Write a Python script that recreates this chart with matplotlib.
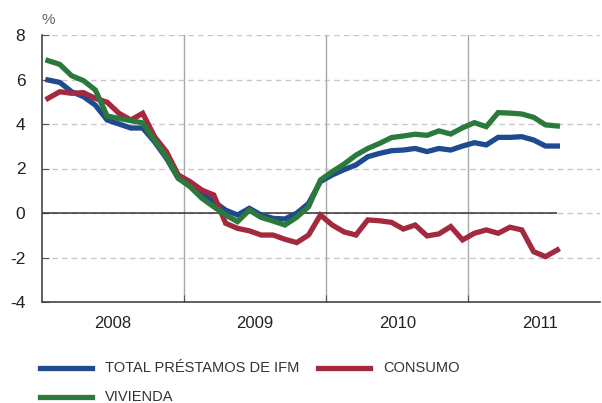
import matplotlib
matplotlib.use("Agg")
import matplotlib.pyplot as plt
from matplotlib.lines import Line2D
import numpy as np

# Monthly data, Jan 2008 .. Aug 2011
years = ["2008", "2009", "2010", "2011"]
total = [5.98, 5.87, 5.45, 5.23, 4.85, 4.18, 4.00, 3.82, 3.82, 3.20, 2.46, 1.56,
         1.26, 0.88, 0.51, 0.13, -0.09, 0.21, -0.09, -0.24, -0.27, -0.01, 0.43, 1.41,
         1.71, 1.95, 2.16, 2.53, 2.68, 2.80, 2.83, 2.90, 2.76, 2.90, 2.83, 3.01,
         3.16, 3.06, 3.40, 3.40, 3.43, 3.28, 3.01, 3.01]
vivienda = [6.85, 6.68, 6.17, 5.95, 5.53, 4.36, 4.25, 4.15, 4.05, 3.28, 2.53, 1.56,
            1.18, 0.66, 0.28, -0.09, -0.39, 0.13, -0.20, -0.36, -0.54, -0.19, 0.28, 1.48,
            1.86, 2.20, 2.60, 2.90, 3.13, 3.39, 3.46, 3.54, 3.49, 3.69, 3.55, 3.83,
            4.06, 3.88, 4.51, 4.49, 4.45, 4.30, 3.96, 3.91]
consumo = [5.15, 5.45, 5.38, 5.41, 5.15, 4.98, 4.48, 4.18, 4.48, 3.43, 2.76, 1.71,
           1.41, 1.03, 0.81, -0.46, -0.69, -0.80, -0.99, -0.99, -1.18, -1.33, -0.99, -0.09,
           -0.54, -0.85, -0.99, -0.31, -0.35, -0.42, -0.72, -0.54, -1.03, -0.94, -0.61, -1.21,
           -0.91, -0.76, -0.91, -0.64, -0.76, -1.74, -1.96, -1.66]
labels = ["TOTAL PRÉSTAMOS DE IFM", "CONSUMO", "VIVIENDA"]
colors = ["#1f4a8f", "#a3293f", "#2b7a3b"]
yticks = [-4, -2, 0, 2, 4, 6, 8]

plt.rcParams['font.family'] = ['Liberation Sans', 'DejaVu Sans']

fig = plt.figure(figsize=(6.02, 4.03), dpi=100)
ax = fig.add_axes([42/602, 1-302/403, (600-42)/602, (302-35)/403])

x = np.arange(len(total)) + 0.5
series = [total, consumo, vivienda]
zorders = [3, 4, 5]
# draw order: red, blue, green roughly as in reference
for s, c, z in zip(series, colors, zorders):
    ax.plot(x, s, color=c, lw=3.8, solid_joinstyle='miter', zorder=z)

ax.set_xlim(0, 47.1)
ax.set_ylim(-4, 8)

# grid
for yv in yticks:
    if yv not in (0, -4):
        ax.axhline(yv, color='#c8c8c8', lw=1.0, ls=(0, (4, 3)), zorder=1)
ax.hlines(0, 0, x[-1], color='#333333', lw=1.1, zorder=2)
ax.axhline(0, color='#c8c8c8', lw=1.0, ls=(0, (4, 3)), zorder=1)
for k in range(1, len(years)):
    ax.axvline(12*k, color='#a8a8a8', lw=1.0, zorder=1)

ax.set_yticks(yticks)
ax.set_yticklabels([str(v) for v in yticks], fontsize=12.5, color='#222222')
ax.set_xticks([12, 24, 36])
ax.set_xticklabels([])
ax.set_xticks([6 + 12*k for k in range(len(years))], minor=True)
ax.set_xticklabels(years, minor=True, fontsize=12, color='#222222')
ax.tick_params(axis='x', which='minor', length=0, pad=10)
ax.tick_params(axis='x', which='major', direction='in', length=5, color='#555555')
ax.tick_params(axis='y', direction='in', length=5, pad=12, color='#555555')

for sp in ['top', 'right']:
    ax.spines[sp].set_visible(False)
for sp in ['left', 'bottom']:
    ax.spines[sp].set_color('#444444')
    ax.spines[sp].set_linewidth(1.2)

fig.text(42/602, 1-20/403, "%", fontsize=11, color='#666666', ha='left', va='center')

# legend (manual placement)
leg_pos = [(40, 368), (318, 368), (40, 397)]
for (px, py), lab, c in zip(leg_pos, labels, colors):
    fig.add_artist(Line2D([px/602, (px+52)/602], [1-py/403, 1-py/403],
                          color=c, lw=3.8, transform=fig.transFigure))
    fig.text((px+65)/602, 1-py/403, lab, fontsize=10.5, color='#333333',
             ha='left', va='center', family=['Liberation Sans Narrow', 'Liberation Sans', 'DejaVu Sans'])

fig.savefig("out.png", dpi=100)
